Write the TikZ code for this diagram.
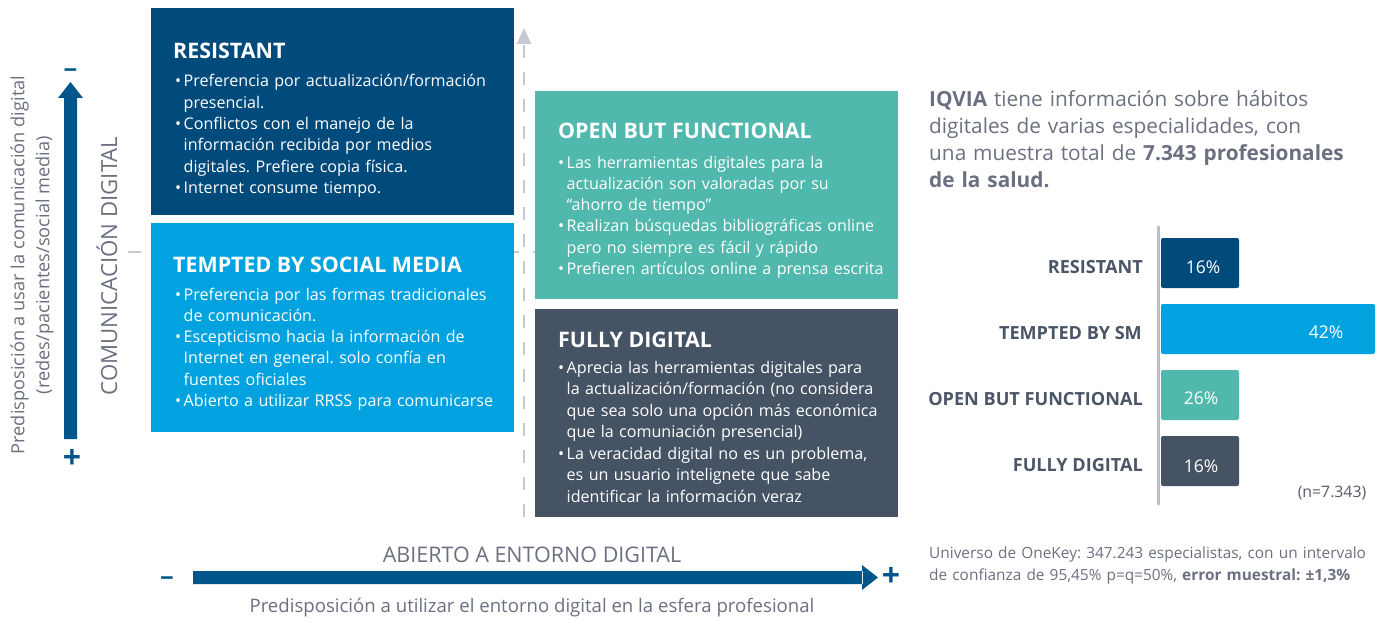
\documentclass[tikz,border=0pt]{standalone}
\usepackage{fontspec}
\setmainfont{Open Sans}
\usetikzlibrary{arrows.meta}
\definecolor{resist}{HTML}{004A7C}
\definecolor{tempted}{HTML}{00A3E0}
\definecolor{openf}{HTML}{50B8AC}
\definecolor{fully}{HTML}{465365}
\definecolor{arrowblue}{HTML}{00558A}
\definecolor{graytext}{HTML}{6B7080}
\definecolor{barlabel}{HTML}{4A5566}
\definecolor{dashgray}{HTML}{C8C8D0}
\newcommand\bulitem{\makebox[8.5pt][l]{•}}
\newcommand\contind{\hspace*{8.5pt}}
\tikzset{
  panel/.style={anchor=north west, inner sep=0, outer sep=0},
  ptitle/.style={anchor=base west, inner sep=0, text=white, font=\bfseries\fontsize{21.4}{26}\selectfont},
  pbody/.style={anchor=base west, inner sep=0, text=white, align=left, text width=350pt, font=\fontsize{16.1}{21.3}\selectfont},
  bar/.style={anchor=north west, inner sep=0, outer sep=0, rounded corners=2pt},
  barname/.style={anchor=east, inner sep=0, text=barlabel, font=\bfseries\fontsize{18.1}{20}\selectfont},
  barpct/.style={anchor=center, inner sep=0, text=white, font=\fontsize{17.5}{20}\selectfont},
  note/.style={anchor=base west, inner sep=0, text=graytext, align=left, text width=460pt},
  axislbl/.style={inner sep=0, text=graytext},
  sign/.style={inner sep=0, text=arrowblue, font=\bfseries\fontsize{32}{32}\selectfont},
  dashaxis/.style={dashgray, line width=2.4pt, dash pattern=on 13pt off 14pt},
}
\begin{document}
\frenchspacing
\begin{tikzpicture}[x=1pt,y=-1pt]
\useasboundingbox (0,0) rectangle (1384,623);
% dashed axes
\coordinate (vb) at (524,517);
\coordinate (vt) at (524,28);
\coordinate (hl) at (128,252);
\coordinate (hr) at (546,252);
\draw[dashaxis] (hl) -- (hr);
\draw[dashaxis, -{Triangle[length=16pt,width=14pt]}] (vb) -- (vt);
% panels
\node[panel, fill=resist, minimum width=363pt, minimum height=207pt] (resbox) at (151,8) {};
\node[panel, fill=tempted, minimum width=363pt, minimum height=209pt] (tempbox) at (151,223) {};
\node[panel, fill=openf, minimum width=363pt, minimum height=208pt] (openbox) at (535,91) {};
\node[panel, fill=fully, minimum width=363pt, minimum height=208pt] (fullbox) at (535,309) {};
% panel texts
\node[ptitle] (restitle) at (173,59) {RESISTANT};
\node[pbody] (resbody) at (175,87) {\bulitem Preferencia por actualización/formación\\
\contind presencial.\\
\bulitem Conflictos con el manejo de la\\
\contind información recibida por medios\\
\contind digitales. Prefiere copia física.\\
\bulitem Internet consume tiempo.};
\node[ptitle] (temptitle) at (173,272) {TEMPTED BY SOCIAL MEDIA};
\node[pbody] (tempbody) at (175,300) {\bulitem Preferencia por las formas tradicionales\\
\contind de comunicación.\\
\bulitem Escepticismo hacia la información de\\
\contind Internet en general. solo confía en\\
\contind fuentes oficiales\\
\bulitem Abierto a utilizar RRSS para comunicarse};
\node[ptitle] (opentitle) at (558,139) {OPEN BUT FUNCTIONAL};
\node[pbody] (openbody) at (558,168) {\bulitem Las herramientas digitales para la\\
\contind actualización son valoradas por su\\
\contind “ahorro de tiempo”\\
\bulitem Realizan búsquedas bibliográficas online\\
\contind pero no siempre es fácil y rápido\\
\bulitem Prefieren artículos online a prensa escrita};
\node[ptitle] (fulltitle) at (558,347) {FULLY DIGITAL};
\node[pbody, font=\fontsize{16.1}{21.5}\selectfont] (fullbody) at (558,373) {\bulitem Aprecia las herramientas digitales para\\
\contind la actualización/formación (no considera\\
\contind que sea solo una opción más económica\\
\contind que la comuniación presencial)\\
\bulitem La veracidad digital no es un problema,\\
\contind es un usuario intelignete que sabe\\
\contind identificar la información veraz};
% vertical axis (left)
\coordinate (lvb) at (70.5,439);
\coordinate (lvt) at (70.5,82);
\fill[arrowblue] (64,439) rectangle (77,97) (58,98) -- (lvt) -- (83,98) -- cycle;
\node[sign, font=\bfseries\fontsize{24}{24}\selectfont] (vminus) at (70.5,74) {−};
\node[sign] (vplus) at (72,459) {+};
\node[axislbl, rotate=90, align=center, font=\fontsize{18.2}{25}\selectfont] (vlabel) at (32,265) {Predisposición a usar la comunicación digital\\(redes/pacientes/social media)};
\node[axislbl, rotate=90, font=\fontsize{22.2}{24}\selectfont] (vtitle) at (107,266) {COMUNICACIÓN DIGITAL};
% horizontal axis (bottom)
\coordinate (hbl) at (193,577.5);
\coordinate (hbr) at (878,577.5);
\fill[arrowblue] (193,571) rectangle (863,584) (862,565) -- (hbr) -- (862,590) -- cycle;
\node[sign, font=\bfseries\fontsize{24}{24}\selectfont] (hminus) at (167,582) {−};
\node[sign] (hplus) at (891,577) {+};
\node[axislbl, font=\fontsize{21.5}{24}\selectfont] (htitle) at (532,555) {ABIERTO A ENTORNO DIGITAL};
\node[axislbl, font=\fontsize{18.6}{22}\selectfont] (hlabel) at (532,608) {Predisposición a utilizar el entorno digital en la esfera profesional};
% right text
\node[note, font=\fontsize{20.8}{27}\selectfont] (iqvia) at (929,107) {\textbf{IQVIA} tiene información sobre hábitos\\
digitales de varias especialidades, con\\
una muestra total de \textbf{7.343 profesionales}\\
\textbf{de la salud.}};
% bar chart
\coordinate (axtop) at (1158.5,227);
\coordinate (axbot) at (1158.5,504);
\draw[line width=3.5pt, color=dashgray!95!black, line cap=round] (axtop) -- (axbot);
\node[bar, fill=resist, minimum width=78pt, minimum height=50pt] (b1) at (1161,238) {};
\node[bar, fill=tempted, minimum width=214pt, minimum height=50pt] (b2) at (1161,304) {};
\node[bar, fill=openf, minimum width=78pt, minimum height=50pt] (b3) at (1161,370) {};
\node[bar, fill=fully, minimum width=78pt, minimum height=50pt] (b4) at (1161,436) {};
\node[barname] (n1) at (1143,267) {RESISTANT};
\node[barname] (n2) at (1142,333) {TEMPTED BY SM};
\node[barname] (n3) at (1143,399) {OPEN BUT FUNCTIONAL};
\node[barname] (n4) at (1143,465) {FULLY DIGITAL};
\node[barpct] (p1) at (1203,267) {16\%};
\node[barpct] (p2) at (1326,332) {42\%};
\node[barpct] (p3) at (1201,398) {26\%};
\node[barpct] (p4) at (1201,466) {16\%};
\node[inner sep=0, text=graytext!80!black, font=\fontsize{15.8}{18}\selectfont] (nn) at (1332,493) {(n=7.343)};
\node[note, font=\fontsize{15.4}{22}\selectfont] (univ) at (929,558) {Universo de OneKey: 347.243 especialistas, con un intervalo\\
de confianza de 95,45\% p=q=50\%, \textbf{error muestral: ±1,3\%}};
\end{tikzpicture}
\end{document}
